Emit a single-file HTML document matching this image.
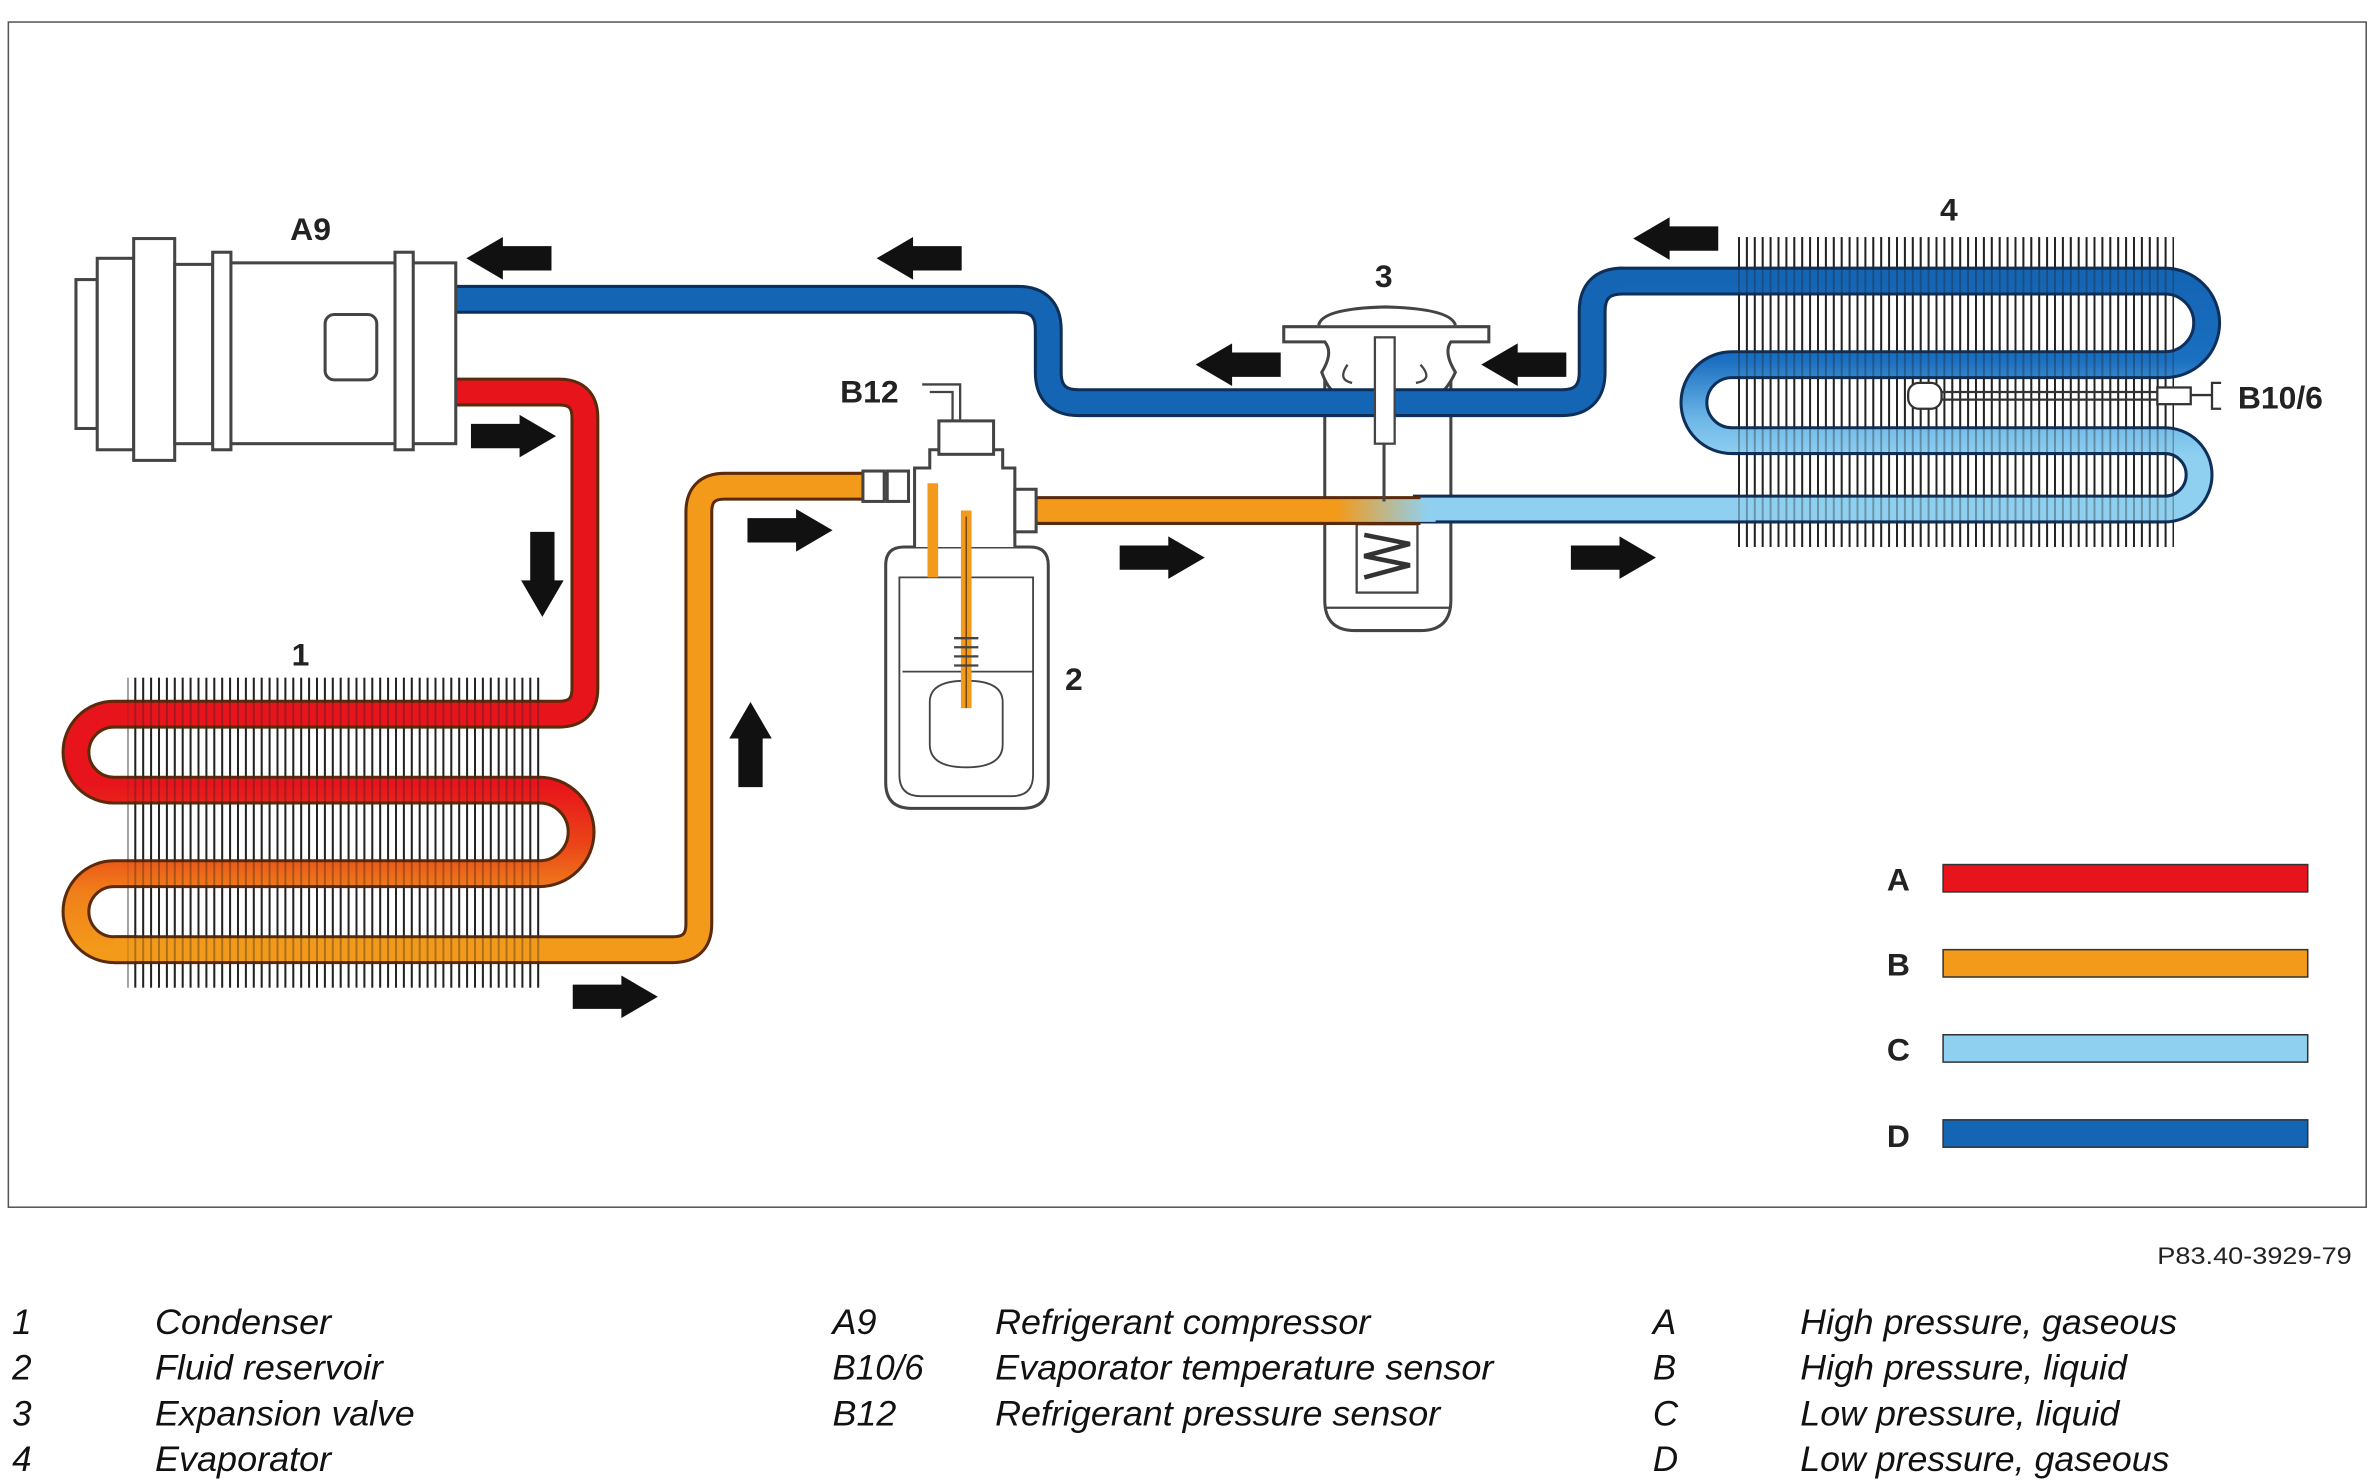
<!DOCTYPE html>
<html><head><meta charset="utf-8"><style>html,body{margin:0;padding:0;background:#fff}svg{display:block}</style></head>
<body>
<svg width="2370" height="1483" viewBox="0 0 1560 976" preserveAspectRatio="none" xmlns="http://www.w3.org/2000/svg">
<defs>
<pattern id="fin" x="0" y="0" width="5.2" height="10" patternUnits="userSpaceOnUse"><rect x="0" y="0" width="1.3" height="10" fill="#222"/></pattern>
<linearGradient id="redg" x1="0" y1="470" x2="0" y2="625" gradientUnits="userSpaceOnUse">
<stop offset="0" stop-color="#e8141c"/><stop offset="0.3" stop-color="#e8141c"/><stop offset="0.55" stop-color="#ea4418"/><stop offset="0.75" stop-color="#f07e1a"/><stop offset="1" stop-color="#f39a1a"/></linearGradient>
<linearGradient id="evg" x1="0" y1="185" x2="0" y2="300" gradientUnits="userSpaceOnUse">
<stop offset="0" stop-color="#1565b5"/><stop offset="0.45" stop-color="#1a6fc0"/><stop offset="0.8" stop-color="#6fb8e8"/><stop offset="1" stop-color="#8fd0f0"/></linearGradient>
<linearGradient id="og" x1="880" y1="0" x2="940" y2="0" gradientUnits="userSpaceOnUse">
<stop offset="0" stop-color="#f39a1a"/><stop offset="1" stop-color="#8fd0f0"/></linearGradient>
<g id="arr"><path d="M-28,-8 H4 V-14 L28,0 L4,14 V8 H-28 Z" fill="#111"/></g>
</defs>
<rect x="5.5" y="14.5" width="1552" height="780" fill="#fff" stroke="#555" stroke-width="1"/>

<!-- fins -->
<rect x="84" y="446" width="272" height="204" fill="url(#fin)"/>
<rect x="1141" y="156" width="290" height="204" fill="url(#fin)"/>

<!-- expansion valve body (behind pipes) -->
<g fill="#fff" stroke="#444" stroke-width="2">
<path d="M872,250 H955 V395 Q955,415 935,415 H892 Q872,415 872,395 Z"/>
<path d="M845,215 H980 V225 H955 Q950,232 958,245 Q950,262 940,262 H888 Q876,262 870,245 Q878,232 872,225 H845 Z"/>
<path d="M868,214 Q870,203 912,202 Q955,203 958,214"/>
<rect x="893" y="345" width="40" height="45" stroke-width="1.5"/>
</g>
<path d="M872,400 H955" stroke="#444" stroke-width="1.5"/>
<path d="M898,352 L928,358 L898,366 L928,372 L898,380" stroke="#333" stroke-width="3" fill="none"/>
<path d="M887,240 Q880,250 890,252 M935,240 Q944,250 932,252" stroke="#444" stroke-width="1.5" fill="none"/>

<!-- blue pipe -->
<path d="M300,197 H670 Q690,197 690,217 V245 Q690,265 710,265 H1028 Q1048,265 1048,245 V205 Q1048,185 1068,185" fill="none" stroke="#0e2f5a" stroke-width="19"/>
<path d="M300,197 H670 Q690,197 690,217 V245 Q690,265 710,265 H1028 Q1048,265 1048,245 V205 Q1048,185 1068,185" fill="none" stroke="#1565b5" stroke-width="15"/>
<!-- evaporator coil -->
<path d="M1066,185 H1425 A27.5,27.5 0 0 1 1425,240 H1140 A25,25 0 0 0 1140,290 H1425 A22.5,22.5 0 0 1 1425,335 H930" fill="none" stroke="#0e2f5a" stroke-width="19"/>
<path d="M1066,185 H1425 A27.5,27.5 0 0 1 1425,240 H1140 A25,25 0 0 0 1140,290 H1425 A22.5,22.5 0 0 1 1425,335 H930" fill="none" stroke="url(#evg)" stroke-width="15"/>
<!-- condenser -->
<path d="M300,258 H368 Q385,258 385,275 V453 Q385,470 368,470 H75 A25,25 0 0 0 75,520 H355 A27.5,27.5 0 0 1 355,575 H75 A25,25 0 0 0 75,625 H90" fill="none" stroke="#5a2a0a" stroke-width="19"/>
<path d="M75,625 H443 Q460,625 460,608 V337 Q460,320 477,320 H590" fill="none" stroke="#5a2a0a" stroke-width="19"/>
<path d="M300,258 H368 Q385,258 385,275 V453 Q385,470 368,470 H75 A25,25 0 0 0 75,520 H355 A27.5,27.5 0 0 1 355,575 H75 A25,25 0 0 0 75,625 H90" fill="none" stroke="url(#redg)" stroke-width="15"/>
<path d="M75,625 H443 Q460,625 460,608 V337 Q460,320 477,320 H590" fill="none" stroke="#f39a1a" stroke-width="15"/>
<!-- orange to expansion valve -->
<path d="M650,336 H935" fill="none" stroke="#5a2a0a" stroke-width="19"/>
<path d="M650,336 H945" fill="none" stroke="url(#og)" stroke-width="15"/>

<!-- fins over pipes lightly -->
<rect x="84" y="446" width="272" height="204" fill="url(#fin)" opacity="0.35"/>
<rect x="1141" y="156" width="290" height="204" fill="url(#fin)" opacity="0.35"/>

<!-- valve stem -->
<rect x="905" y="222" width="13" height="70" fill="#fff" stroke="#444" stroke-width="1.5"/>
<path d="M911,292 V330" stroke="#444" stroke-width="2"/>

<!-- compressor -->
<g fill="#fff" stroke="#444" stroke-width="2">
<rect x="150" y="173" width="150" height="119"/>
<rect x="50" y="184" width="14" height="98"/>
<rect x="64" y="170" width="24" height="126"/>
<rect x="88" y="157" width="27" height="146"/>
<rect x="115" y="174" width="25" height="118"/>
<rect x="140" y="166" width="12" height="130"/>
<rect x="260" y="166" width="12" height="130"/>
<rect x="214" y="207" width="34" height="43" rx="6"/>
</g>

<!-- receiver -->
<g fill="#fff" stroke="#444" stroke-width="2">
<path d="M583,372 Q583,360 595,360 H678 Q690,360 690,372 V515 Q690,532 673,532 H600 Q583,532 583,515 Z"/>
<path d="M592,380 H680 V510 Q680,524 666,524 H606 Q592,524 592,510 Z" fill="none" stroke-width="1.2"/>
<path d="M594,442 H680" stroke-width="1.2"/>
<path d="M612,462 Q612,448 636,448 Q660,448 660,462 V490 Q660,505 636,505 Q612,505 612,490 Z" stroke-width="1.2"/>
<path d="M602,360 V308 H612 V296 H660 V308 H668 V360"/>
<rect x="618" y="277" width="36" height="22"/>
<rect x="568" y="310" width="14" height="20"/><rect x="584" y="310" width="14" height="20"/>
<rect x="668" y="322" width="14" height="28"/>
</g>
<path d="M614,318 V380" stroke="#f39a1a" stroke-width="7"/>
<path d="M636,336 V466" stroke="#f39a1a" stroke-width="7"/>
<path d="M636,340 V466" stroke="#7a4a10" stroke-width="1" fill="none"/>
<g stroke="#444" stroke-width="1.5" fill="none"><path d="M628,420 H644 M628,426 H644 M628,432 H644 M628,438 H644"/><path d="M607,253 H632 V277 M612,258 H627 V277"/></g>

<!-- B10/6 sensor -->
<g fill="#fff" stroke="#333" stroke-width="1.5">
<path d="M1278,258 H1420 M1278,263 H1420"/>
<rect x="1256" y="252" width="22" height="17" rx="7"/>
<rect x="1420" y="255" width="22" height="11"/>
<path d="M1442,260 H1456 M1462,252 H1456 V269 H1462" fill="none"/>
</g>

<!-- arrows -->
<use href="#arr" transform="translate(335,170) rotate(180)"/>
<use href="#arr" transform="translate(605,170) rotate(180)"/>
<use href="#arr" transform="translate(815,240) rotate(180)"/>
<use href="#arr" transform="translate(1003,240) rotate(180)"/>
<use href="#arr" transform="translate(1103,157) rotate(180)"/>
<use href="#arr" transform="translate(338,287)"/>
<use href="#arr" transform="translate(520,349)"/>
<use href="#arr" transform="translate(765,367)"/>
<use href="#arr" transform="translate(1062,367)"/>
<use href="#arr" transform="translate(405,656)"/>
<use href="#arr" transform="translate(357,378) rotate(90)"/>
<use href="#arr" transform="translate(494,490) rotate(-90)"/>

<!-- labels -->
<g font-family="Liberation Sans, sans-serif" font-weight="bold" font-size="21" fill="#222">
<text x="191" y="158">A9</text>
<text x="192" y="438">1</text>
<text x="701" y="454">2</text>
<text x="905" y="189">3</text>
<text x="1277" y="145">4</text>
<text x="553" y="265">B12</text>
<text x="1473" y="269">B10/6</text>
<text x="1242" y="586">A</text>
<text x="1242" y="642">B</text>
<text x="1242" y="698">C</text>
<text x="1242" y="755">D</text>
</g>
<!-- legend bars -->
<rect x="1279" y="569" width="240" height="18" fill="#e8141c" stroke="#333" stroke-width="1"/>
<rect x="1279" y="625" width="240" height="18" fill="#f39a1a" stroke="#333" stroke-width="1"/>
<rect x="1279" y="681" width="240" height="18" fill="#8fd0f0" stroke="#333" stroke-width="1"/>
<rect x="1279" y="737" width="240" height="18" fill="#1565b5" stroke="#333" stroke-width="1"/>

<text x="1420" y="832" font-family="Liberation Sans, sans-serif" font-size="16" fill="#222" textLength="128" lengthAdjust="spacingAndGlyphs">P83.40-3929-79</text>

<g font-family="Liberation Sans, sans-serif" font-style="italic" font-size="23" fill="#111" lengthAdjust="spacingAndGlyphs">
<text x="8" y="878">1</text>
<text x="8" y="908">2</text>
<text x="8" y="938">3</text>
<text x="8" y="968">4</text>
<text x="102" y="878" textLength="116" lengthAdjust="spacingAndGlyphs">Condenser</text>
<text x="102" y="908" textLength="150" lengthAdjust="spacingAndGlyphs">Fluid reservoir</text>
<text x="102" y="938" textLength="171" lengthAdjust="spacingAndGlyphs">Expansion valve</text>
<text x="102" y="968" textLength="116" lengthAdjust="spacingAndGlyphs">Evaporator</text>
<text x="548" y="878" textLength="29" lengthAdjust="spacingAndGlyphs">A9</text>
<text x="548" y="908" textLength="60" lengthAdjust="spacingAndGlyphs">B10/6</text>
<text x="548" y="938" textLength="42" lengthAdjust="spacingAndGlyphs">B12</text>
<text x="655" y="878" textLength="247" lengthAdjust="spacingAndGlyphs">Refrigerant compressor</text>
<text x="655" y="908" textLength="328" lengthAdjust="spacingAndGlyphs">Evaporator temperature sensor</text>
<text x="655" y="938" textLength="293" lengthAdjust="spacingAndGlyphs">Refrigerant pressure sensor</text>
<text x="1088" y="878">A</text>
<text x="1088" y="908">B</text>
<text x="1088" y="938">C</text>
<text x="1088" y="968">D</text>
<text x="1185" y="878" textLength="248" lengthAdjust="spacingAndGlyphs">High pressure, gaseous</text>
<text x="1185" y="908" textLength="215" lengthAdjust="spacingAndGlyphs">High pressure, liquid</text>
<text x="1185" y="938" textLength="210" lengthAdjust="spacingAndGlyphs">Low pressure, liquid</text>
<text x="1185" y="968" textLength="243" lengthAdjust="spacingAndGlyphs">Low pressure, gaseous</text>
</g>
</svg>
</body></html>
